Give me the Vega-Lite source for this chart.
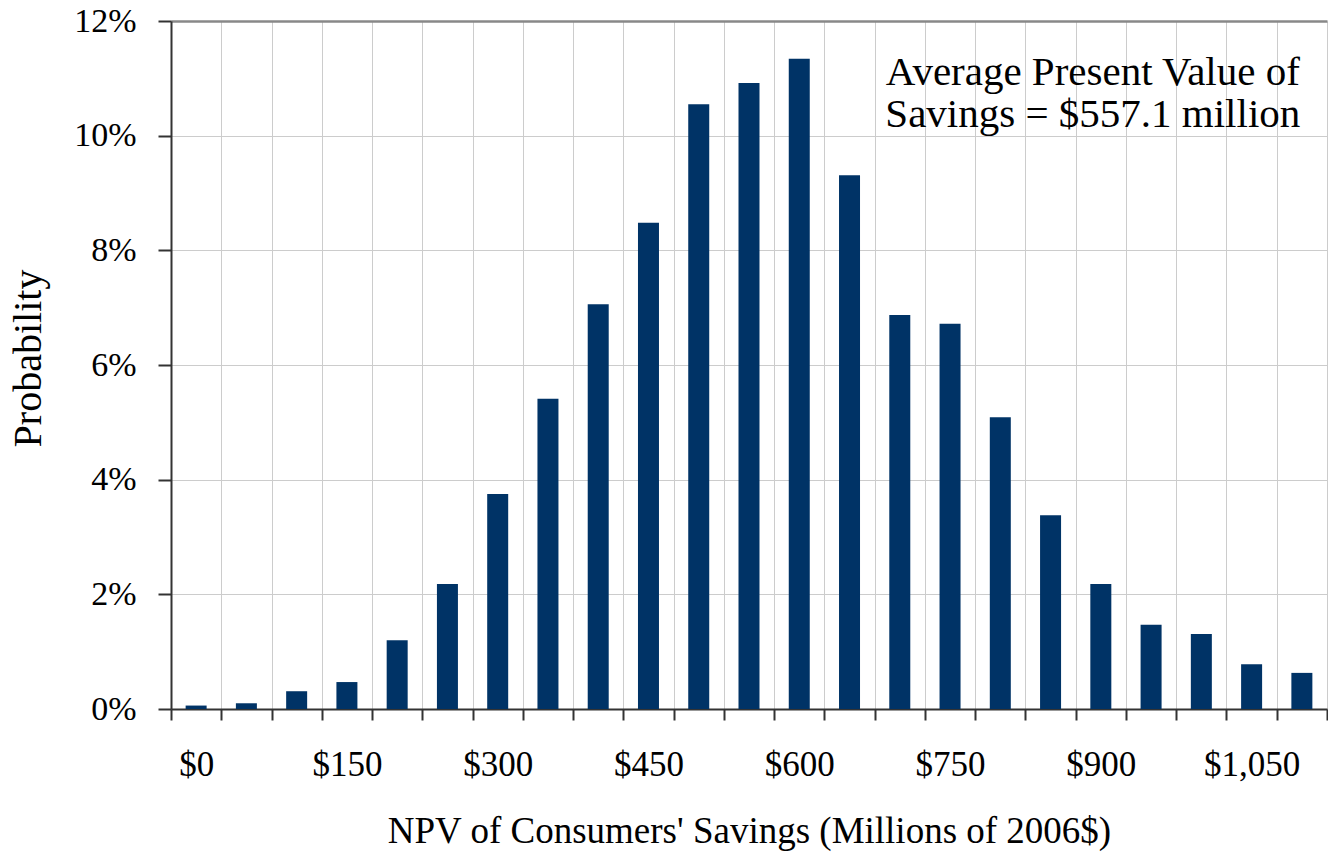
{
  "$schema": "https://vega.github.io/schema/vega-lite/v6.json",
  "width": 1156,
  "height": 688,
  "autosize": {"type": "none"},
  "padding": {"left": 171, "top": 21, "right": 1, "bottom": 147},
  "background": "white",
  "config": {"view": {"stroke": null}, "font": "Liberation Serif"},
  "data": {"values": [
    {"npv": 0, "p": 0.0006},
    {"npv": 50, "p": 0.0010},
    {"npv": 100, "p": 0.0031},
    {"npv": 150, "p": 0.0047},
    {"npv": 200, "p": 0.0120},
    {"npv": 250, "p": 0.0218},
    {"npv": 300, "p": 0.0375},
    {"npv": 350, "p": 0.0541},
    {"npv": 400, "p": 0.0706},
    {"npv": 450, "p": 0.0848},
    {"npv": 500, "p": 0.1055},
    {"npv": 550, "p": 0.1092},
    {"npv": 600, "p": 0.1134},
    {"npv": 650, "p": 0.0931},
    {"npv": 700, "p": 0.0687},
    {"npv": 750, "p": 0.0672},
    {"npv": 800, "p": 0.0509},
    {"npv": 850, "p": 0.0338},
    {"npv": 900, "p": 0.0218},
    {"npv": 950, "p": 0.0147},
    {"npv": 1000, "p": 0.0131},
    {"npv": 1050, "p": 0.0078},
    {"npv": 1100, "p": 0.0063}
  ]},
  "layer": [
    {
      "mark": {"type": "bar", "color": "#003366", "width": 21},
      "encoding": {
        "x": {
          "field": "npv", "type": "ordinal",
          "scale": {"paddingInner": 0, "paddingOuter": 0},
          "axis": {
            "title": "NPV of Consumers' Savings (Millions of 2006$)",
            "tickBand": "extent",
            "grid": true, "gridColor": "#cccccc", "gridWidth": 1,
            "labelAngle": 0,
            "labelExpr": "datum.value % 150 == 0 ? '$' + format(datum.value, ',') : ''",
            "labelFontSize": 35, "labelColor": "black", "labelFont": "Liberation Serif",
            "labelPadding": 27, "labelOverlap": false, "labelBound": false, "labelFlush": false,
            "tickSize": 11, "tickColor": "#333333", "tickWidth": 2,
            "domainColor": "#333333", "domainWidth": 2,
            "titleFontSize": 37, "titleFontWeight": "normal", "titleColor": "black", "titleFont": "Liberation Serif",
            "titleX": 578, "titleY": 133, "titleAlign": "center", "titleBaseline": "alphabetic"
          }
        },
        "y": {
          "field": "p", "type": "quantitative",
          "scale": {"domain": [0, 0.12]},
          "axis": {
            "title": "Probability",
            "values": [0, 0.02, 0.04, 0.06, 0.08, 0.1, 0.12],
            "format": ".0%",
            "grid": true,
            "gridColor": {"condition": {"test": "datum.value >= 0.12", "value": "#888888"}, "value": "#cccccc"},
            "gridWidth": {"condition": {"test": "datum.value >= 0.12", "value": 2.5}, "value": 1},
            "labelFontSize": 34, "labelColor": "black", "labelFont": "Liberation Serif",
            "labelPadding": 22,
            "tickSize": 13, "tickColor": "#333333", "tickWidth": 2,
            "domainColor": "#333333", "domainWidth": 2,
            "titleFontSize": 40, "titleFontWeight": "normal", "titleColor": "black", "titleFont": "Liberation Serif",
            "titleX": -143, "titleY": 337, "titleAngle": 270, "titleAlign": "center", "titleBaseline": "middle"
          }
        }
      }
    },
    {
      "data": {"values": [{"npv": 900, "p": 0.1088, "label": "Average Present Value of\nSavings = $557.1 million"}]},
      "mark": {"type": "text", "fontSize": 41, "font": "Liberation Serif", "lineBreak": "\n", "lineHeight": 42, "align": "center", "baseline": "alphabetic", "dx": -8, "color": "black"},
      "encoding": {
        "x": {"field": "npv", "type": "ordinal"},
        "y": {"field": "p", "type": "quantitative"},
        "text": {"field": "label"}
      }
    }
  ]
}
